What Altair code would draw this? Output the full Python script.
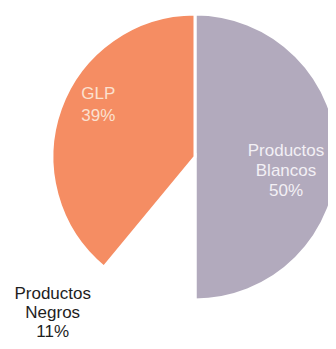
import altair as alt
import pandas as pd

categories = ["Productos Blancos", "Productos Negros", "GLP"]
shares = [50, 11, 39]
labels = ["Productos\nBlancos\n50%", "Productos\nNegros\n11%", "GLP\n39%"]
colors = ["#B2AABD", "#FFFFFF", "#F58D63"]

df = pd.DataFrame({"categoria": categories, "valor": shares, "etiqueta": labels})

base = alt.Chart(df).transform_window(idx="row_number()")

theta = alt.Theta("valor:Q", stack=True)
order = alt.Order("idx:Q")

pie = base.mark_arc(radius=143, stroke="white", strokeWidth=3).encode(
    theta=theta,
    order=order,
    color=alt.Color("categoria:N", scale=alt.Scale(domain=categories, range=colors), legend=None),
)


def label_layer(cat, radius, dx, dy, color, line_height):
    return base.transform_calculate(
        t=f"datum.categoria == '{cat}' ? datum.etiqueta : ''"
    ).mark_text(
        radius=radius, dx=dx, dy=dy, lineBreak="\n", fontSize=17, lineHeight=line_height,
        font="Liberation Sans", color=color, align="center", baseline="middle",
    ).encode(theta=theta, order=order, text="t:N")


chart = alt.layer(
    pie,
    label_layer("GLP", 108, 5, -26, "#FBE1D0", 22),
    label_layer("Productos Blancos", 96, -5, -6, "#F3F0F5", 20),
    label_layer("Productos Negros", 175, -83, -28, "#1E1E1E", 19),
).properties(
    width=266,
    height=298,
    padding={"left": 54, "top": 0, "right": 0, "bottom": 35},
    autosize=alt.AutoSizeParams(type="none"),
).configure_view(stroke=None)

chart.save("out.html", embed_options={"renderer": "svg", "actions": False})
